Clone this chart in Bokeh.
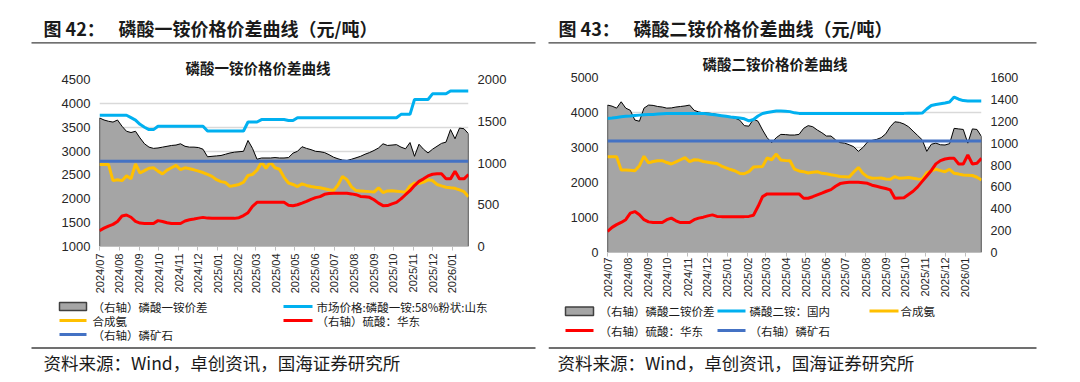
import math
import pandas as pd
from datetime import datetime
from bokeh.plotting import figure
from bokeh.layouts import row, column
from bokeh.models import Range1d, LinearAxis, FixedTicker, DatetimeTickFormatter
from bokeh.core.properties import value
from bokeh.embed import file_html
from bokeh.resources import INLINE

# ---------------- data ----------------
dates = pd.date_range("2024-07-01", periods=83, freq="7D")
rock_dates = pd.to_datetime(["2024-07-01", "2026-01-26"])
month_ticks = pd.date_range("2024-07-01", "2026-01-01", freq="MS")

# Chart 42 : MAP
map_spread = [1540, 1515, 1500, 1490, 1515, 1440, 1380, 1365, 1380, 1300,
              1230, 1190, 1175, 1180, 1190, 1200, 1210, 1215, 1230, 1200,
              1190, 1190, 1185, 1165, 1075, 1080, 1085, 1090, 1105, 1120,
              1130, 1135, 1140, 1270, 1175, 1045, 1060, 1060, 1060, 1065,
              1060, 1060, 1065, 1118, 1140, 1195, 1175, 1160, 1140, 1135,
              1125, 1100, 1070, 1050, 1035, 1030, 1045, 1062, 1080, 1105,
              1125, 1150, 1180, 1230, 1210, 1215, 1220, 1190, 1170, 1245,
              1080, 1225, 1165, 1120, 1165, 1200, 1235, 1250, 1400, 1290,
              1418, 1410, 1350]
map_price = [3750, 3750, 3750, 3750, 3750, 3750, 3750, 3700, 3650, 3560,
             3500, 3450, 3450, 3520, 3520, 3520, 3520, 3520, 3520, 3520,
             3520, 3520, 3520, 3520, 3420, 3420, 3420, 3420, 3420, 3420,
             3420, 3420, 3420, 3610, 3610, 3610, 3660, 3660, 3660, 3660,
             3660, 3660, 3640, 3640, 3700, 3700, 3700, 3700, 3700, 3700,
             3700, 3700, 3700, 3700, 3700, 3700, 3700, 3700, 3700, 3700,
             3700, 3700, 3700, 3700, 3700, 3700, 3700, 3770, 3770, 3770,
             4080, 4080, 4080, 4080, 4200, 4200, 4200, 4200, 4260, 4260,
             4260, 4260, 4260]
ammonia_1 = [2720, 2720, 2720, 2380, 2400, 2380, 2480, 2420, 2730, 2540,
             2590, 2640, 2650, 2580, 2520, 2600, 2650, 2700, 2610, 2650,
             2630, 2607, 2580, 2550, 2510, 2470, 2400, 2360, 2340, 2260,
             2280, 2300, 2346, 2490, 2510, 2600, 2767, 2640, 2767, 2650,
             2620, 2450, 2330, 2300, 2256, 2312, 2280, 2256, 2241, 2230,
             2210, 2190, 2172, 2290, 2470, 2400, 2250, 2172, 2165, 2157,
             2150, 2140, 2228, 2130, 2165, 2170, 2160, 2150, 2136, 2270,
             2330, 2320, 2350, 2397, 2382, 2300, 2270, 2241, 2230, 2220,
             2186, 2150, 2045]
sulfuric_1 = [190, 220, 245, 265, 300, 365, 377, 350, 300, 280,
              276, 276, 276, 310, 300, 285, 276, 276, 276, 305,
              320, 329, 340, 349, 340, 337, 337, 337, 337, 337,
              337, 345, 370, 405, 480, 529, 529, 529, 529, 529,
              529, 529, 495, 489, 500, 520, 541, 565, 585, 597,
              625, 635, 637, 637, 637, 637, 630, 621, 600, 595,
              589, 560, 520, 489, 490, 510, 529, 570, 620, 669,
              730, 780, 810, 845, 865, 870, 870, 810, 810, 900,
              810, 810, 862]
rock_1 = [1020, 1020]

# Chart 43 : DAP
dap_spread = [1348, 1338, 1320, 1378, 1320, 1300, 1211, 1200, 1320, 1348,
              1345, 1335, 1330, 1320, 1322, 1330, 1335, 1340, 1348, 1300,
              1285, 1277, 1275, 1270, 1262, 1250, 1245, 1238, 1228, 1210,
              1160, 1155, 1220, 1200, 1120, 1050, 1004, 1050, 1080, 1078,
              1074, 1074, 1080, 1135, 1160, 1150, 1120, 1095, 1065, 1065,
              1030, 1005, 1000, 985, 967, 925, 960, 1010, 1025, 1034,
              1050, 1085, 1150, 1195, 1190, 1175, 1150, 1110, 1070, 1030,
              925, 990, 1000, 985, 983, 995, 1135, 1130, 1125, 1000,
              1130, 1125, 1060]
dap_price = [3830, 3840, 3860, 3880, 3890, 3900, 3915, 3925, 3935, 3940,
             3945, 3955, 3965, 3970, 3975, 3975, 3975, 3975, 3975, 3975,
             3975, 3975, 3960, 3945, 3930, 3910, 3890, 3870, 3855, 3840,
             3820, 3760, 3800, 3900, 3970, 4000, 4020, 4040, 4040, 4035,
             4025, 3990, 3975, 3975, 3970, 3970, 3970, 3970, 3970, 3970,
             3970, 3970, 3970, 3970, 3970, 3970, 3970, 3970, 3970, 3970,
             3975, 3975, 3975, 3975, 3975, 3975, 3980, 3980, 3980, 3985,
             4100, 4200, 4230, 4250, 4270, 4300, 4440, 4380, 4340, 4330,
             4330, 4330, 4330]
ammonia_2 = [2737, 2737, 2737, 2360, 2360, 2350, 2338, 2480, 2750, 2560,
             2600, 2623, 2623, 2570, 2528, 2590, 2650, 2708, 2594, 2650,
             2640, 2600, 2580, 2560, 2540, 2470, 2420, 2370, 2330, 2260,
             2250, 2309, 2440, 2452, 2460, 2700, 2650, 2813, 2642, 2630,
             2623, 2380, 2330, 2309, 2270, 2290, 2309, 2262, 2250, 2220,
             2200, 2170, 2165, 2160, 2300, 2430, 2262, 2160, 2120, 2125,
             2130, 2100, 2092, 2167, 2120, 2130, 2140, 2120, 2100, 2092,
             2280, 2330, 2378, 2340, 2309, 2378, 2262, 2240, 2215, 2210,
             2200, 2150, 2072]
sulfuric_2 = [192, 230, 255, 275, 300, 360, 374, 345, 300, 280,
              274, 274, 274, 300, 314, 290, 274, 274, 274, 300,
              314, 323, 335, 344, 330, 328, 328, 328, 328, 328,
              328, 330, 340, 420, 511, 536, 536, 536, 536, 536,
              536, 536, 536, 496, 496, 510, 526, 542, 560, 575,
              605, 630, 638, 642, 642, 642, 638, 633, 615, 605,
              595, 585, 572, 496, 498, 500, 530, 560, 600, 650,
              700, 750, 810, 840, 855, 861, 861, 809, 809, 891,
              809, 815, 861]
rock_2 = [1020, 1020]

left_ticks_1 = [1000, 1500, 2000, 2500, 3000, 3500, 4000, 4500]
right_ticks_1 = [0, 500, 1000, 1500, 2000]
left_ticks_2 = [0, 1000, 2000, 3000, 4000, 5000]
right_ticks_2 = [0, 200, 400, 600, 800, 1000, 1200, 1400, 1600]

headers = ["图 42：", "图 43："]
titles = ["磷酸一铵价格价差曲线（元/吨）", "磷酸二铵价格价差曲线（元/吨）"]
inner_titles = ["磷酸一铵价格价差曲线", "磷酸二铵价格价差曲线"]
legend_1 = ["（右轴）磷酸一铵价差", "市场价格:磷酸一铵:58%粉状:山东", "合成氨", "（右轴）硫酸：华东", "（右轴）磷矿石"]
legend_2 = ["（右轴）磷酸二铵价差", "磷酸二铵：国内", "合成氨", "（右轴）硫酸：华东", "（右轴）磷矿石"]
source = "资料来源：Wind，卓创资讯，国海证券研究所"

# ---------------- style ----------------
CJK = "Noto Sans CJK SC"
NUM = "Liberation Sans"
GRAY = "#A5A5A5"
CYAN = "#00B0F0"
ORANGE = "#FFC000"
RED = "#FF0000"
BLUE = "#4472C4"
TXT = "#1a1a1a"
X_START = datetime(2024, 7, 1)
X_END = datetime(2026, 1, 26)
tick_ms = [int(pd.Timestamp(d).value // 10**6) for d in month_ticks]
PAGE_W = 1078
HDR_H = 46
W1 = 548
W2 = PAGE_W - W1


def build(width, height, borders, y_rng, y_ticks, r_rng, r_ticks, spread, price, ammonia,
          sulfuric, rock, lab_size, title, title_offset, title_standoff, x_standoff):
    bl, br, bt, bb = borders
    p = figure(width=width, height=height, x_axis_type="datetime",
               x_range=Range1d(X_START, X_END), y_range=Range1d(*y_rng),
               output_backend="svg", toolbar_location=None, title=title,
               min_border_left=bl, min_border_right=br, min_border_top=bt, min_border_bottom=bb)
    p.frame_align = False
    p.outline_line_color = None
    p.background_fill_color = "white"
    p.border_fill_color = "white"
    p.title.text_font = CJK
    p.title.text_font_size = "14.5px"
    p.title.text_font_style = "bold"
    p.title.text_color = TXT
    p.title.align = "left"
    p.title.offset = title_offset
    p.title.standoff = title_standoff
    p.extra_y_ranges = {"r": Range1d(*r_rng)}

    ly = p.yaxis[0]
    ly.ticker = FixedTicker(ticks=y_ticks)
    raxis = LinearAxis(y_range_name="r", ticker=FixedTicker(ticks=r_ticks))
    p.add_layout(raxis, "right")
    for ax in (ly, raxis):
        ax.axis_line_color = None
        ax.major_tick_line_color = None
        ax.minor_tick_line_color = None
        ax.major_tick_out = 0
        ax.major_label_standoff = 9
        ax.major_label_text_font = NUM
        ax.major_label_text_font_size = lab_size
        ax.major_label_text_color = "#262626"

    xa = p.xaxis[0]
    xa.ticker = FixedTicker(ticks=tick_ms)
    xa.formatter = DatetimeTickFormatter(years="%Y/%m", months="%Y/%m", days="%Y/%m",
                                         hours="%Y/%m", minutes="%Y/%m")
    xa.major_label_orientation = math.pi / 2
    xa.axis_line_color = "#BFBFBF"
    xa.axis_line_width = 1
    xa.major_tick_line_color = "#BFBFBF"
    xa.major_tick_out = 4
    xa.major_tick_in = 0
    xa.minor_tick_line_color = None
    xa.major_label_standoff = x_standoff
    xa.major_label_text_font = NUM
    xa.major_label_text_font_size = "11px"
    xa.major_label_text_color = "#262626"

    p.xgrid.grid_line_color = None
    p.ygrid.grid_line_color = "#D9D9D9"
    p.ygrid.grid_line_width = 1.5

    p.varea(x=dates, y1=0, y2=spread, y_range_name="r", fill_color=GRAY)
    p.line(dates, spread, y_range_name="r", line_color="black", line_width=1)
    p.segment(x0=[dates[0], dates[-1]], y0=[0, 0], x1=[dates[0], dates[-1]],
              y1=[spread[0], spread[-1]], y_range_name="r", line_color="black", line_width=1.2)
    p.line(dates, price, line_color=CYAN, line_width=3)
    p.line(dates, ammonia, line_color=ORANGE, line_width=3)
    p.line(dates, sulfuric, y_range_name="r", line_color=RED, line_width=3)
    p.line(rock_dates, rock, y_range_name="r", line_color=BLUE, line_width=3)
    return p


def blank(width, height, x_left, y_top):
    f = figure(width=width, height=height, x_range=Range1d(x_left, x_left + width),
               y_range=Range1d(y_top + height, y_top), output_backend="svg",
               toolbar_location=None, title=None, x_axis_location=None, y_axis_location=None,
               min_border=0)
    f.frame_align = False
    f.outline_line_color = None
    f.grid.visible = False
    f.background_fill_color = "white"
    f.border_fill_color = "white"
    return f


def put(f, x, y, s, size, bold=False, color=TXT):
    f.text(x=[x], y=[y], text=[s], text_font=value(CJK), text_font_size=f"{size}px",
           text_font_style="bold" if bold else "normal", text_color=color,
           text_baseline="middle", text_align="left")


# ---------- header ----------
hdr = blank(PAGE_W, HDR_H, 0, 0)
put(hdr, 43, 27, headers[0], 18, bold=True)
put(hdr, 118, 27, titles[0], 18, bold=True)
put(hdr, 558, 27, headers[1], 18, bold=True)
put(hdr, 633, 27, titles[1], 18, bold=True)
hdr.segment(x0=[31, 548], y0=[42.3, 42.3], x1=[535, 1036], y1=[42.3, 42.3],
            line_color="#404040", line_width=1.3)

# ---------- charts ----------
C1_BOT = 296
C2_BOT = 301
p1 = build(W1, C1_BOT - HDR_H, (99, W1 - 99 - 369, 79 - HDR_H, C1_BOT - 246), (1000, 4500),
           left_ticks_1, (0, 2000), right_ticks_1,
           map_spread, map_price, ammonia_1, sulfuric_1, rock_1, "13px",
           inner_titles[0], 86, 3.5, 3)
p2 = build(W2, C2_BOT - HDR_H, (59, W2 - 59 - 374, 77 - HDR_H, C2_BOT - 252), (0, 5000),
           left_ticks_2, (0, 1600), right_ticks_2, dap_spread, dap_price, ammonia_2,
           sulfuric_2, rock_2, "12.5px", inner_titles[1], 95, 6.5, 1)

# ---------- footers (legends + source) ----------
f1 = blank(W1, 380 - C1_BOT, 0, C1_BOT)
f1.quad(left=[59], right=[86], top=[302], bottom=[310], fill_color=GRAY,
        line_color="#404040", line_width=1.5)
f1.segment(x0=[283, 59, 283, 59], y0=[306, 320, 320, 334], x1=[312, 86, 312, 86],
           y1=[306, 320, 320, 334], line_color=[CYAN, ORANGE, RED, BLUE], line_width=3)
put(f1, 92, 306, legend_1[0], 11.5)
put(f1, 316, 306, legend_1[1], 11.5)
put(f1, 92, 320, legend_1[2], 11.5)
put(f1, 316, 320, legend_1[3], 11.5)
put(f1, 92, 334, legend_1[4], 11.5)
f1.segment(x0=[31], y0=[347.5], x1=[535], y1=[347.5], line_color="#404040", line_width=1.3)
put(f1, 43, 362, source, 17.5)

f2 = blank(W2, 380 - C2_BOT, W1, C2_BOT)
f2.quad(left=[565], right=[593], top=[306.5], bottom=[315], fill_color=GRAY,
        line_color="#404040", line_width=1.5)
f2.segment(x0=[717, 869, 565, 717], y0=[310.5, 310.5, 330, 330], x1=[745, 898, 593, 745],
           y1=[310.5, 310.5, 330, 330], line_color=[CYAN, ORANGE, RED, BLUE], line_width=3)
put(f2, 599, 310.5, legend_2[0], 11.5)
put(f2, 749, 310.5, legend_2[1], 11.5)
put(f2, 900, 310.5, legend_2[2], 11.5)
put(f2, 599, 330, legend_2[3], 11.5)
put(f2, 749, 330, legend_2[4], 11.5)
f2.segment(x0=[548], y0=[347.5], x1=[1036], y1=[347.5], line_color="#404040", line_width=1.3)
put(f2, 557, 362, source, 17.5)

layout = column(hdr, row(column(p1, f1), column(p2, f2)))
open("out.html", "w").write(file_html(layout, INLINE))
